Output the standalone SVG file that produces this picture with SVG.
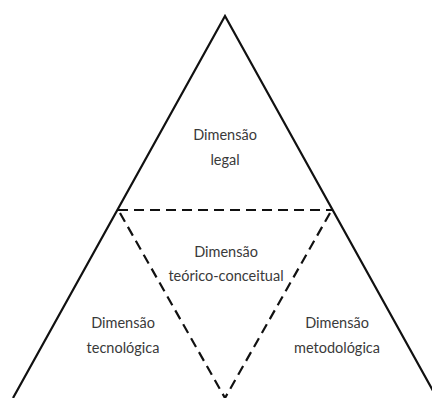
<svg xmlns="http://www.w3.org/2000/svg" width="432" height="398" viewBox="0 0 432 398">
<style>
.t{font-family:Lato,"Open Sans","Liberation Sans",sans-serif;font-size:14.5px;fill:#3a3a3a;text-anchor:middle}
.solid{fill:none;stroke:#111;stroke-width:2.2;stroke-linejoin:miter}
.dash{fill:none;stroke:#111;stroke-width:2.2;stroke-dasharray:10 6}
</style>
<rect width="432" height="398" fill="#fff"/>
<g id="connectors">
<polyline class="solid" points="13,398 225,16 437,398"/>
<line class="dash" x1="118" y1="210" x2="332" y2="210"/>
<line class="dash" x1="120" y1="213" x2="225" y2="398"/>
<line class="dash" x1="330" y1="213" x2="225" y2="398"/>
</g>
<g id="legal"><text class="t" x="225" y="140">Dimensão</text><text class="t" x="225" y="165">legal</text></g>
<g id="teorico"><text class="t" x="226" y="257">Dimensão</text><text class="t" x="226" y="281">teórico-conceitual</text></g>
<g id="tecnologica"><text class="t" x="123" y="328">Dimensão</text><text class="t" x="123" y="353">tecnológica</text></g>
<g id="metodologica"><text class="t" x="337" y="328">Dimensão</text><text class="t" x="337" y="353">metodológica</text></g>
</svg>
